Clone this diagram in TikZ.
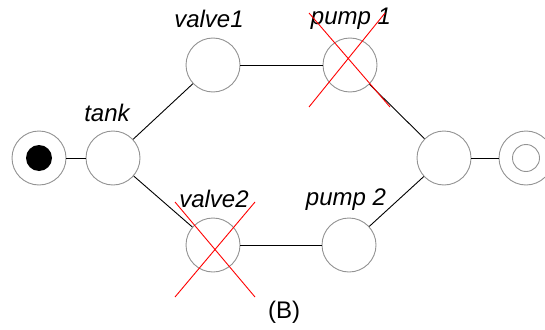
\documentclass[tikz,border=0pt]{standalone}
\usepackage{fontspec}
\setmainfont{Liberation Sans}
\begin{document}
\begin{tikzpicture}[x=1pt,y=-1pt,
  place/.style={circle,draw=gray!85,line width=0.9pt,minimum size=54pt,inner sep=0pt,fill=white},
  lbl/.style={font=\fontsize{24}{28}\selectfont\itshape},
  conn/.style={black,line width=0.9pt},
  cross/.style={red,line width=0.9pt}]
\useasboundingbox (0,0) rectangle (545,329);
\node[place] (start) at (39,158) {};
\node[circle,fill=black,minimum size=26pt,inner sep=0pt] (startin) at (39,158) {};
\node[place] (tank) at (113,158) {};
\node[place] (valve1) at (213,65) {};
\node[place] (pump1) at (350,65) {};
\node[place] (valve2) at (213,245) {};
\node[place] (pump2) at (349,245) {};
\node[place] (join) at (444,158) {};
\node[place] (end) at (526,158) {};
\node[circle,draw=gray!85,line width=0.9pt,minimum size=27pt,inner sep=0pt] (endin) at (526,158) {};
\draw[conn] (start) -- (tank);
\draw[conn] (tank) -- (valve1);
\draw[conn] (valve1) -- (pump1);
\draw[conn] (pump1) -- (join);
\draw[conn] (tank) -- (valve2);
\draw[conn] (valve2) -- (pump2);
\draw[conn] (pump2) -- (join);
\draw[conn] (join) -- (end);
\node[lbl] (l1) at (209,19) {valve1};
\node[lbl] (l2) at (351,19) {pump 1};
\node[lbl] (l3) at (107,113) {tank};
\node[lbl] (l4) at (214,199) {valve2};
\node[lbl] (l5) at (346,200) {pump 2};
\node[font=\fontsize{24}{28}\selectfont] (lb) at (284,312) {(B)};
\coordinate (a1) at (309,13); \coordinate (a2) at (390,107);
\coordinate (a3) at (385,13); \coordinate (a4) at (309,107);
\draw[cross] (a1) -- (a2); \draw[cross] (a3) -- (a4);
\coordinate (b1) at (175,202); \coordinate (b2) at (255,297);
\coordinate (b3) at (255,202); \coordinate (b4) at (175,297);
\draw[cross] (b1) -- (b2); \draw[cross] (b3) -- (b4);
\end{tikzpicture}
\end{document}
